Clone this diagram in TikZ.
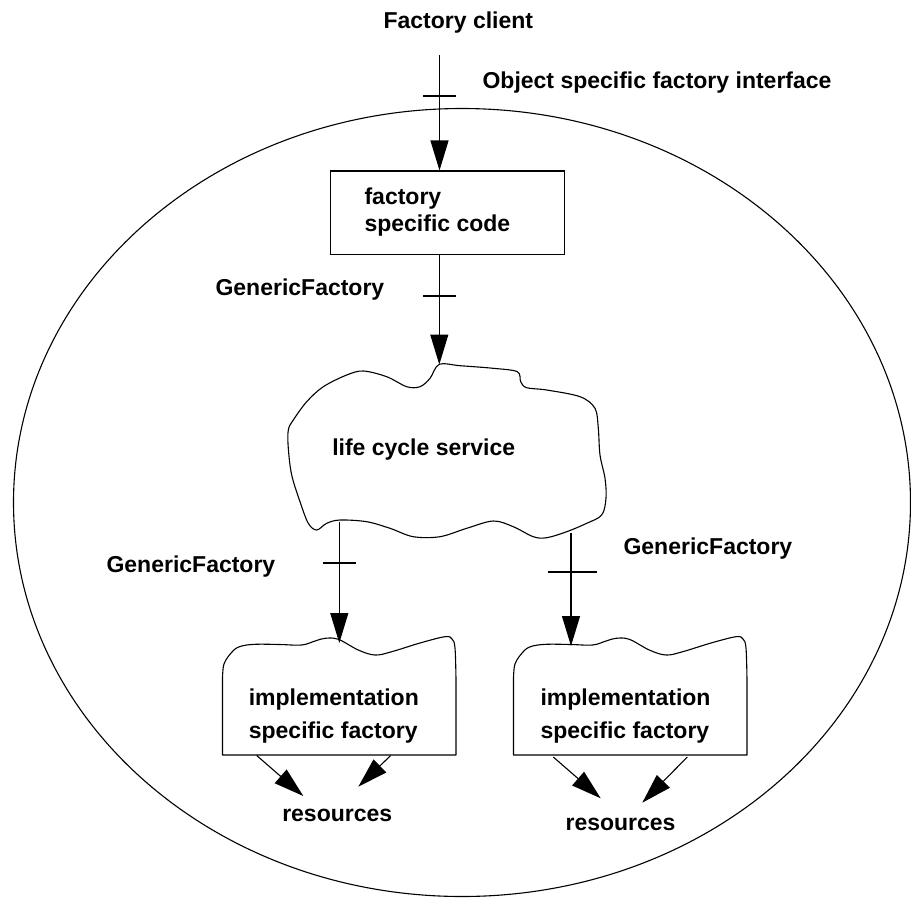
\documentclass[tikz,border=0pt]{standalone}
\usepackage{fontspec}
\setmainfont{Liberation Sans}
\usetikzlibrary{arrows.meta,calc}

\tikzset{
  lbl/.style={anchor=base west, inner sep=0pt, align=left,
              font=\fontsize{23}{27}\selectfont\bfseries},
  wide/.style={font=\fontsize{23}{33}\selectfont\bfseries},
  arr/.style={-{Triangle[length=30pt,width=18pt]}},
  shape line/.style={line width=1.1pt, line join=round},
  tickmark/.style={line width=1.1pt},
  codebox/.style={draw, line width=1.1pt, minimum width=234pt,
                  minimum height=83.5pt, inner sep=0pt},
}

\begin{document}
\begin{tikzpicture}[x=1pt, y=-1pt, line width=1.1pt]
\useasboundingbox (0,0) rectangle (911,898);

% the object boundary
\draw[shape line] (462,502.5) ellipse [x radius=448.5, y radius=394];

% labels
\node[lbl] (client) at (383,28.3) {Factory client};
\node[lbl] (osfi)   at (482,88)   {Object specific factory interface};
\node[lbl] (gf1)    at (215,295.5) {GenericFactory};
\node[lbl] (gf2)    at (106,572)  {GenericFactory};
\node[lbl] (gf3)    at (623,554.6) {GenericFactory};

% factory specific code (multi-line labels sit on their last baseline)
\node[codebox] (fsc) at (447.5,212.75) {};
\node[lbl] (fsctext) at (364,231) {factory\\specific code};

% life cycle service cloud
\draw[shape line] plot[smooth cycle, tension=0.55] coordinates {
  (439.3,364.3) (460,365.7) (493.3,368.3) (517.3,371.7) (520.7,381.7)
  (526.7,387.7) (546.7,390) (580,396.7) (595,408.3) (598.3,428.3)
  (600,455) (605,478.3) (606,498.3) (601.7,515) (586.7,523.3)
  (566.7,531.7) (546.7,537.7) (533.3,536.7) (513.3,526.7) (493.3,521)
  (466.7,528.3) (440,536.7) (413.3,536.7) (390,528.3) (366.7,521.7)
  (340,520) (326.7,523.3) (316.7,530) (308.3,523.3) (300,501.7)
  (291.7,475) (288.3,448.3) (288.3,430) (293.3,420) (306.7,401.7)
  (323.3,386.7) (346.7,375) (363.3,371) (386.7,376.7) (406.7,386.7)
  (420,386.7) (430,378.3)};
\node[lbl] (lcs) at (331.7,455) {life cycle service};
\coordinate (lcs-top) at (439.3,364.5);
\coordinate (lcs-left) at (339.3,521.5);
\coordinate (lcs-right) at (571,533.3);

% implementation specific factories (wavy-topped boxes)
\foreach \dx/\nm in {0/isfA, 291/isfB} {
  \begin{scope}[xshift=\dx pt]
    \draw[shape line] (222.5,755) -- plot[smooth, tension=0.6] coordinates {
      (222.5,680) (224,664) (232,652) (240,646.5) (255,644.3) (280,644.5)
      (301.7,645) (315,641) (325,638.3) (338.3,639.3) (358.3,650)
      (375,655) (391.7,651.7) (420,643) (445,636.7) (452,639) (455,648)
      (456,680)} -- (456,755) -- cycle;
    \coordinate (\nm-sw) at (222.5,755);
  \end{scope}
}
\node[lbl, wide] (isfAtext) at (248.3,738.3) {implementation\\specific factory};
\node[lbl, wide] (isfBtext) at (540,738.3)   {implementation\\specific factory};
\coordinate (isfA-top) at (339.3,639);
\coordinate (isfB-top) at (571,645);

% resources
\node[lbl] (resA) at (281.7,821.7) {resources};
\node[lbl] (resB) at (565,830.7)   {resources};

% connectors with interface ticks
\coordinate (client-out) at (439.5,55);
\draw[arr] (client-out) -- (fsc.north -| client-out);
\draw[tickmark] (423,96) -- (456,96);

\draw[arr] (fsc.south -| lcs-top) -- (lcs-top);
\draw[tickmark] (423,296) -- (456,296);

\draw[arr] (lcs-left) -- ([yshift=-4pt]isfA-top);
\draw[tickmark] (323,563) -- (356,563);

\draw[arr] (lcs-right) -- ([yshift=-1pt]isfB-top);
\draw[tickmark] (548,572) -- (597,572);

% factories reaching their resources
\coordinate (rA1) at (256.7,755.5);
\coordinate (rA2) at (390.7,755.5);
\coordinate (rB1) at (553.3,757);
\coordinate (rB2) at (687.3,757);
\draw[arr] (rA1) -- (303.3,796);
\draw[arr] (rA2) -- (358.3,786.7);
\draw[arr] (rB1) -- (600.7,798.3);
\draw[arr] (rB2) -- (642.3,802.7);
\end{tikzpicture}
\end{document}
